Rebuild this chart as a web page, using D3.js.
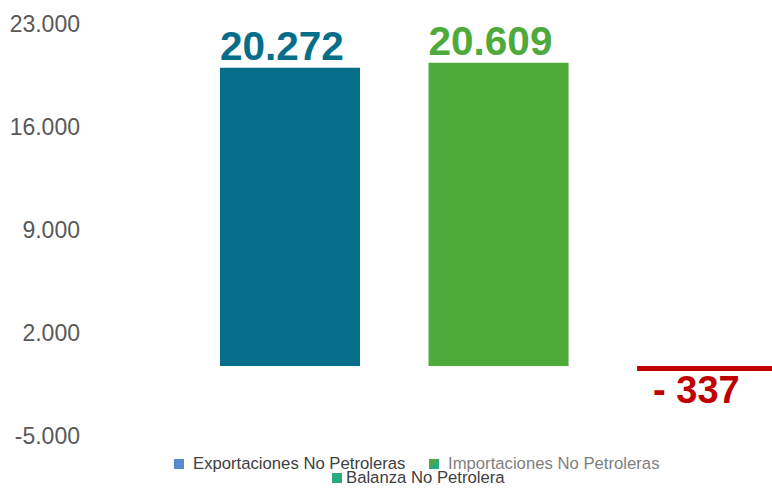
<!DOCTYPE html>
<html>
<head>
<meta charset="utf-8">
<script src="https://cdn.jsdelivr.net/npm/d3@7"></script>
<style>
  html, body { margin: 0; padding: 0; background: #fff; overflow: hidden; }
  svg { display: block; font-family: "Liberation Sans", Arial, sans-serif; }
</style>
</head>
<body>
<svg id="canvas"></svg>
<script>
// data
const categories = ["Exportaciones No Petroleras", "Importaciones No Petroleras", "Balanza No Petrolera"];
const values = [20272, 20609, -337];
const valueLabels = ["20.272", "20.609", "- 337"];
const tickValues = [-5000, 2000, 9000, 16000, 23000];
const tickLabels = ["-5.000", "2.000", "9.000", "16.000", "23.000"];

const width = 772;
const height = 497;
const svg = d3.select("#canvas").attr("width", width).attr("height", height);

// colours
const barColors = ["#076e8a", "#4eaa3b", "#c00000"];

// scales
const yScale = d3.scaleLinear()
    .domain([-5000, 23000])
    .range([439.6, 27.6]);

// third bar runs off the right edge like the original
const xScale = d3.scaleBand()
    .domain(categories)
    .range([185.8, 811.3])
    .paddingInner(0.3285)
    .paddingOuter(0.164);

// y axis labels (no line, no ticks)
svg.append("g")
    .selectAll("text")
    .data(tickValues)
    .join("text")
        .attr("x", 80)
        .attr("y", d => yScale(d) - 3.6)
        .attr("dy", "0.35em")
        .attr("text-anchor", "end")
        .attr("fill", "#595959")
        .attr("font-size", 23)
        .text((d, i) => tickLabels[i]);

// bars
svg.append("g")
    .selectAll("rect")
    .data(values)
    .join("rect")
        .attr("x", (d, i) => xScale(categories[i]))
        .attr("y", d => yScale(Math.max(0, d)))
        .attr("width", xScale.bandwidth())
        .attr("height", d => Math.abs(yScale(d) - yScale(0)))
        .attr("fill", (d, i) => barColors[i]);

// value labels
svg.append("g")
    .selectAll("text")
    .data(values)
    .join("text")
        .attr("x", (d, i) => i < 2 ? xScale(categories[i]) : xScale(categories[i]) + 16)
        .attr("y", d => d >= 0 ? yScale(d) - 8 : yScale(d) + 32)
        .attr("fill", (d, i) => barColors[i])
        .attr("font-size", d => d >= 0 ? 40.5 : 38)
        .attr("font-weight", "bold")
        .text((d, i) => valueLabels[i]);

// legend
const legend = svg.append("g").attr("font-size", 16.7);
const defs = svg.append("defs");
const grad = defs.append("linearGradient")
    .attr("id", "split").attr("x1", "0").attr("y1", "0").attr("x2", "1").attr("y2", "1");
grad.append("stop").attr("offset", "0.5").attr("stop-color", "#4eaa3b");
grad.append("stop").attr("offset", "0.5").attr("stop-color", "#2aa87f");

const legendItems = [
    { x: 174, y: 459, fill: "#5a8ad0", text: "#404040" },
    { x: 429, y: 459, fill: "url(#split)", text: "#7f7f7f" },
    { x: 332, y: 473, fill: "#2aa87f", text: "#404040" }
];
legendItems.forEach((it, i) => {
    legend.append("rect")
        .attr("x", it.x).attr("y", it.y)
        .attr("width", 10).attr("height", 10)
        .attr("fill", it.fill);
    legend.append("text")
        .attr("x", it.x + (i == 2 ? 14 : 19))
        .attr("y", it.y + 10)
        .attr("fill", it.text)
        .text(categories[i]);
});
</script>
</body>
</html>
